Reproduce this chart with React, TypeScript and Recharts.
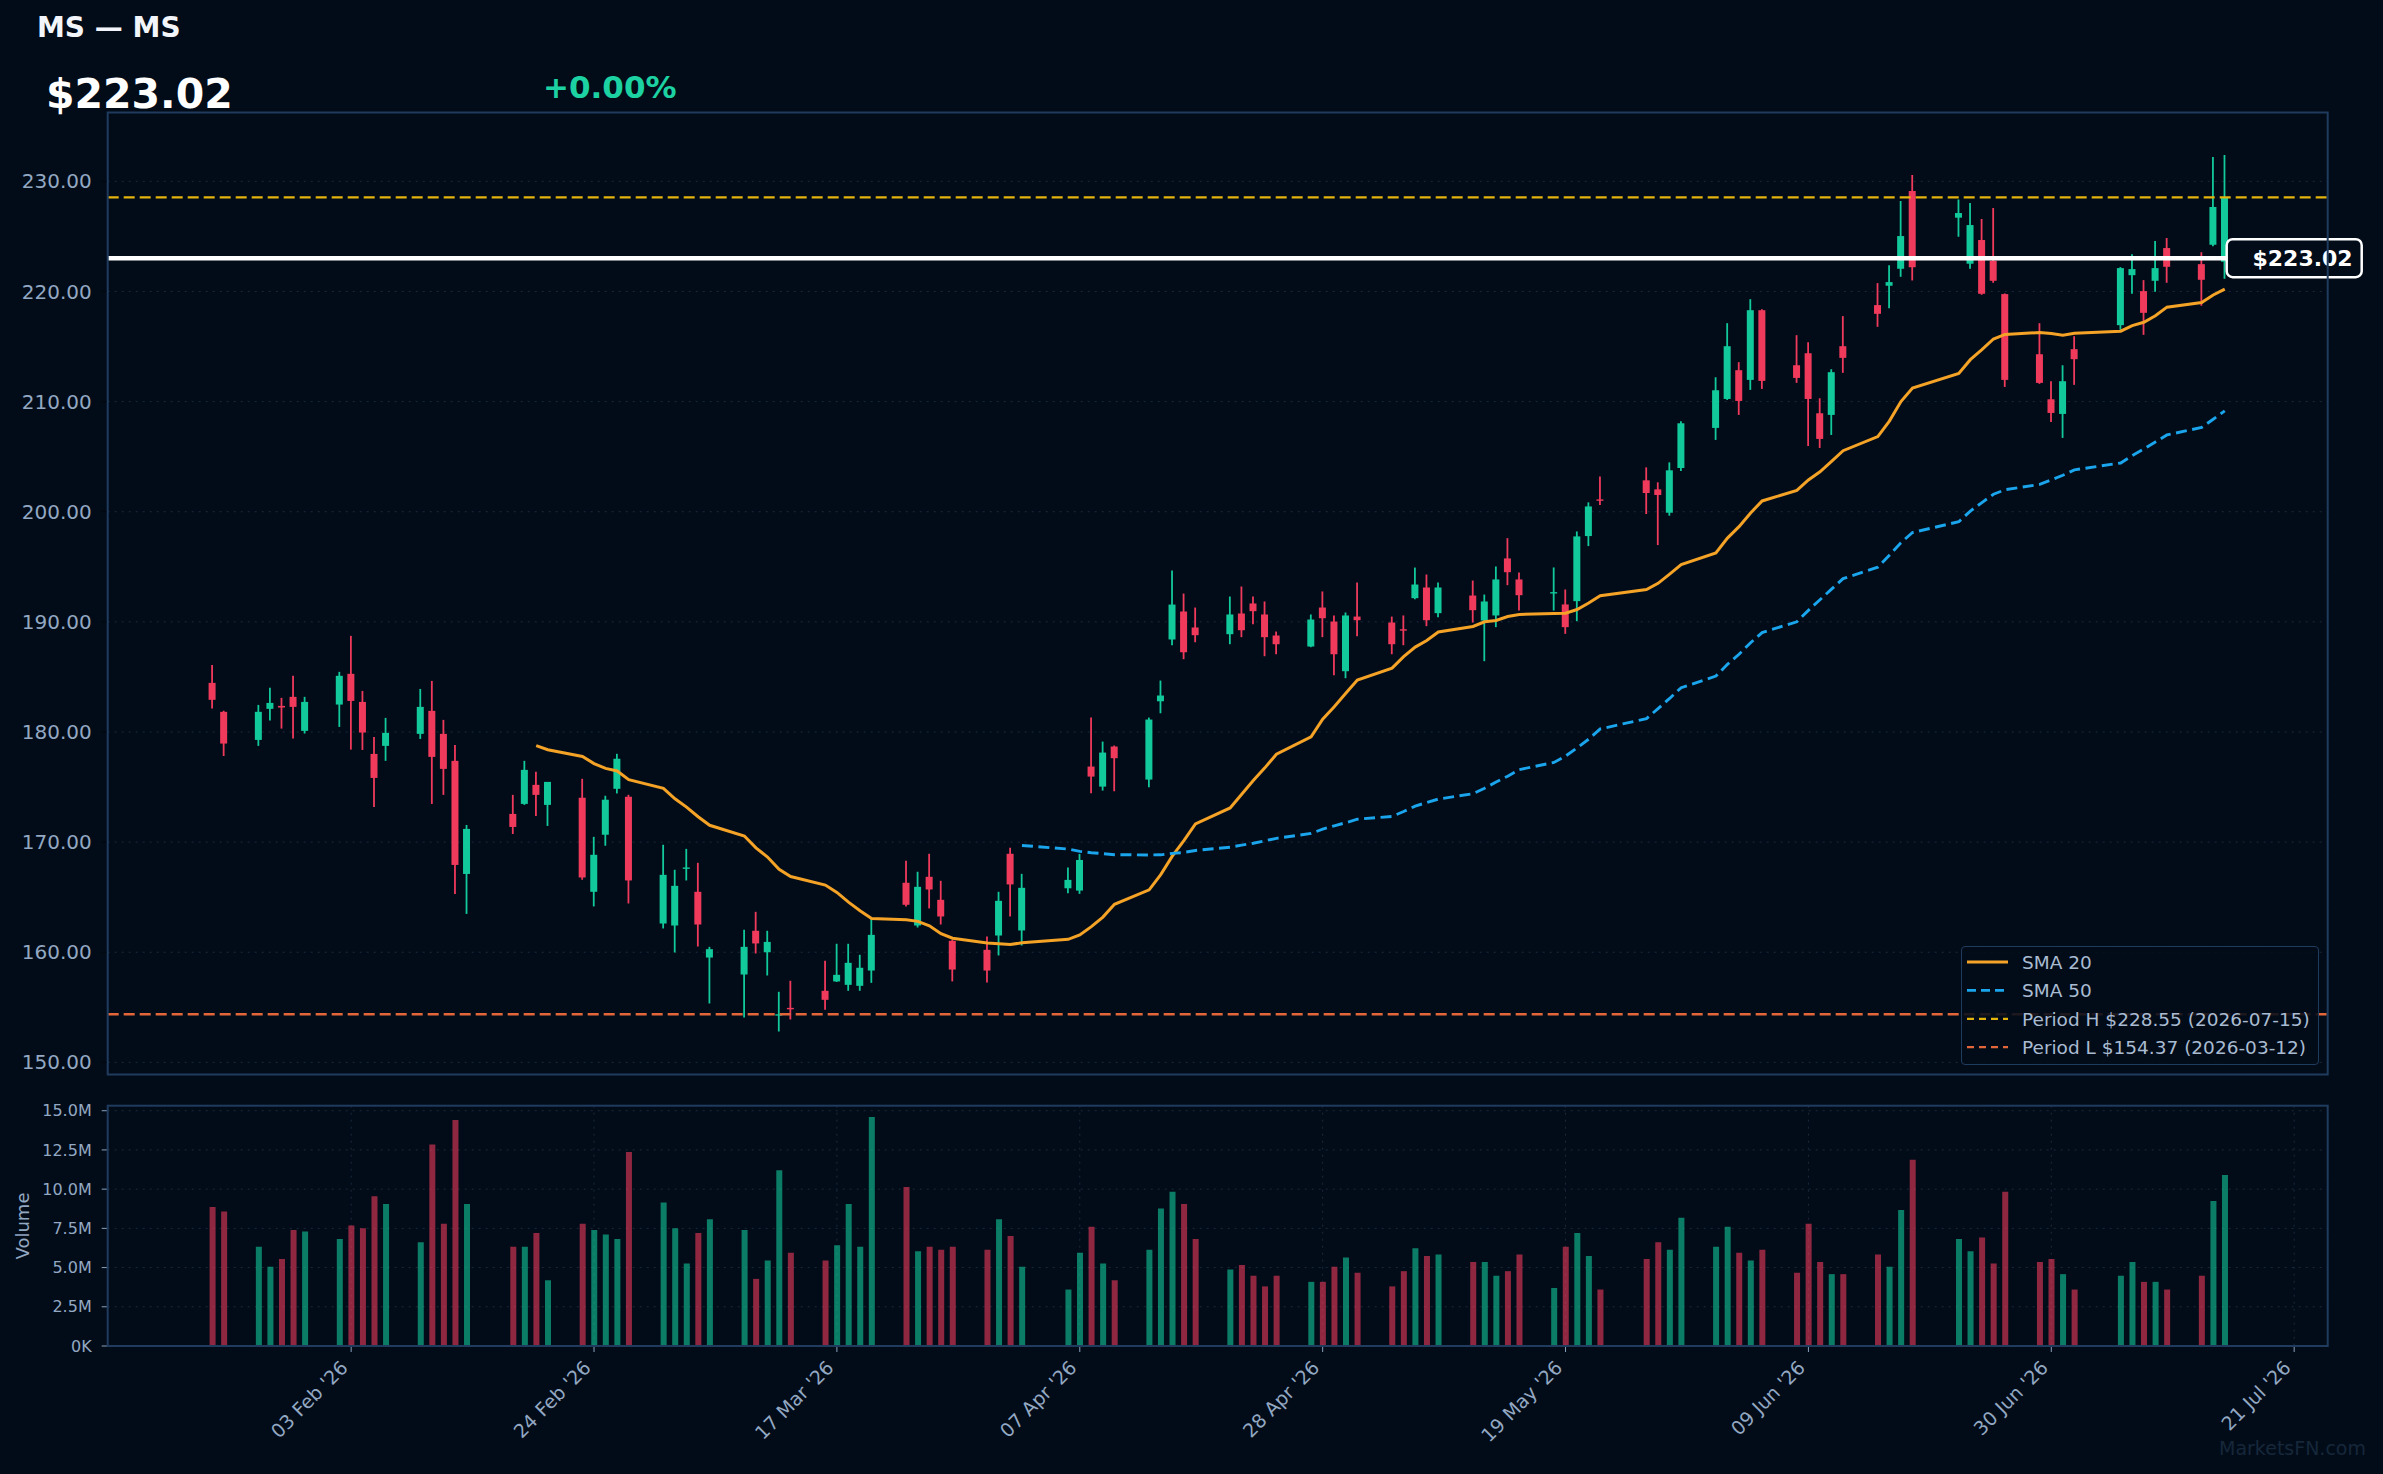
import React from "react"
import {
  Bar,
  CartesianGrid,
  Cell,
  ComposedChart,
  Line,
  ReferenceLine,
  XAxis,
  YAxis,
} from "recharts"

const BG = "#020c19"
const GREEN = "#12c99b"
const RED = "#f03a5c"
const GRID = "#1a2a3b"
const FRAME = "#1f3b5d"
const TICK_TEXT = "#93a8c2"
const SMA20_COLOR = "#f4a326"
const SMA50_COLOR = "#1aa5ec"
const HIGH_COLOR = "#e4b40c"
const LOW_COLOR = "#e3663a"
const FONT = "'DejaVu Sans', sans-serif"

const symbol = "MS"
const lastPrice = 223.02
const changePct = 0.0
const periodHigh = 228.55
const periodHighDate = "2026-07-15"
const periodLow = 154.37
const periodLowDate = "2026-03-12"

// daily sessions, Jan 22 – Jul 15 2026
const dates = [
  "2026-01-22", "2026-01-23", "2026-01-26", "2026-01-27", "2026-01-28", "2026-01-29", "2026-01-30",
  "2026-02-02", "2026-02-03", "2026-02-04", "2026-02-05", "2026-02-06",
  "2026-02-09", "2026-02-10", "2026-02-11", "2026-02-12", "2026-02-13",
  "2026-02-17", "2026-02-18", "2026-02-19", "2026-02-20",
  "2026-02-23", "2026-02-24", "2026-02-25", "2026-02-26", "2026-02-27",
  "2026-03-02", "2026-03-03", "2026-03-04", "2026-03-05", "2026-03-06",
  "2026-03-09", "2026-03-10", "2026-03-11", "2026-03-12", "2026-03-13",
  "2026-03-16", "2026-03-17", "2026-03-18", "2026-03-19", "2026-03-20",
  "2026-03-23", "2026-03-24", "2026-03-25", "2026-03-26", "2026-03-27",
  "2026-03-30", "2026-03-31", "2026-04-01", "2026-04-02",
  "2026-04-06", "2026-04-07", "2026-04-08", "2026-04-09", "2026-04-10",
  "2026-04-13", "2026-04-14", "2026-04-15", "2026-04-16", "2026-04-17",
  "2026-04-20", "2026-04-21", "2026-04-22", "2026-04-23", "2026-04-24",
  "2026-04-27", "2026-04-28", "2026-04-29", "2026-04-30", "2026-05-01",
  "2026-05-04", "2026-05-05", "2026-05-06", "2026-05-07", "2026-05-08",
  "2026-05-11", "2026-05-12", "2026-05-13", "2026-05-14", "2026-05-15",
  "2026-05-18", "2026-05-19", "2026-05-20", "2026-05-21", "2026-05-22",
  "2026-05-26", "2026-05-27", "2026-05-28", "2026-05-29",
  "2026-06-01", "2026-06-02", "2026-06-03", "2026-06-04", "2026-06-05",
  "2026-06-08", "2026-06-09", "2026-06-10", "2026-06-11", "2026-06-12",
  "2026-06-15", "2026-06-16", "2026-06-17", "2026-06-18",
  "2026-06-22", "2026-06-23", "2026-06-24", "2026-06-25", "2026-06-26",
  "2026-06-29", "2026-06-30", "2026-07-01", "2026-07-02",
  "2026-07-06", "2026-07-07", "2026-07-08", "2026-07-09", "2026-07-10",
  "2026-07-13", "2026-07-14", "2026-07-15",
]

const opens = [
  184.46, 181.83, 179.28, 182.10, 182.37, 183.19, 180.10,
  182.49, 185.28, 182.73, 178.01, 178.74,
  179.83, 181.92, 179.83, 177.38, 167.11,
  172.56, 173.47, 175.20, 173.38,
  174.03, 165.49, 170.67, 174.84, 174.12,
  162.61, 162.43, 167.64, 165.49, 159.52,
  157.98, 161.95, 160.00, 154.30, 154.95,
  156.50, 157.35, 157.04, 156.95, 158.34,
  166.31, 162.43, 166.85, 164.76, 161.04,
  160.22, 161.52, 168.94, 161.98,
  165.81, 165.60, 176.86, 175.04, 178.68,
  175.68, 182.79, 188.40, 190.94, 189.49,
  188.88, 190.76, 191.67, 190.67, 188.76,
  187.76, 191.30, 190.03, 185.52, 190.48,
  189.94, 189.33, 192.15, 193.12, 190.79,
  192.39, 190.12, 190.58, 195.76, 193.85,
  192.60, 191.58, 191.88, 197.79, 201.12,
  202.85, 202.03, 199.91, 203.97,
  207.61, 210.24, 212.85, 211.97, 218.30,
  213.30, 214.39, 208.94, 208.79, 215.03,
  218.76, 220.52, 222.06, 229.12,
  226.70, 222.52, 224.67, 222.79, 219.76,
  214.30, 210.21, 208.88, 214.76,
  216.94, 221.48, 220.03, 220.97, 223.94,
  222.48, 224.24, 222.70,
]

const highs = [
  186.09, 181.92, 182.46, 184.01, 183.10, 185.10, 183.19,
  185.46, 188.73, 183.73, 179.55, 181.28,
  183.91, 184.64, 181.10, 178.83, 171.56,
  174.29, 177.38, 176.38, 175.45,
  175.75, 170.48, 174.21, 178.02, 174.30,
  169.76, 167.49, 169.39, 168.12, 160.49,
  162.04, 163.67, 161.95, 156.41, 157.41,
  159.22, 160.77, 160.77, 159.77, 163.04,
  168.30, 167.31, 168.94, 166.49, 161.13,
  161.43, 165.49, 169.49, 167.12,
  167.69, 168.93, 181.31, 179.13, 178.77,
  181.31, 184.67, 194.66, 192.57, 191.30,
  192.30, 193.21, 192.30, 191.85, 189.12,
  190.67, 192.76, 190.58, 190.85, 193.57,
  190.48, 190.58, 194.93, 194.30, 193.57,
  193.75, 192.48, 195.03, 197.60, 194.48,
  194.94, 192.94, 198.21, 200.85, 203.21,
  204.03, 202.67, 204.48, 208.21,
  212.21, 217.12, 213.58, 219.30, 218.39,
  216.03, 215.39, 210.30, 212.94, 217.76,
  220.76, 222.39, 228.21, 230.58,
  228.36, 228.03, 226.58, 227.58, 219.82,
  217.12, 211.85, 213.30, 215.94,
  222.21, 223.39, 221.03, 224.58, 224.85,
  223.55, 232.21, 232.39,
]

const lows = [
  182.13, 177.83, 178.74, 181.04, 180.31, 179.40, 179.86,
  180.46, 178.40, 178.37, 173.20, 177.38,
  179.37, 173.47, 174.29, 165.30, 163.48,
  170.74, 173.38, 172.38, 171.47,
  166.58, 164.16, 169.67, 174.42, 164.43,
  162.16, 159.98, 166.52, 160.52, 155.35,
  154.07, 159.89, 157.89, 152.80, 153.89,
  154.77, 157.30, 156.50, 156.50, 157.22,
  164.16, 162.25, 163.98, 162.52, 157.35,
  157.25, 159.71, 163.25, 160.61,
  165.36, 165.30, 174.44, 174.68, 174.62,
  174.98, 181.70, 187.88, 186.61, 188.15,
  187.97, 188.61, 189.79, 186.88, 187.06,
  187.70, 188.61, 185.16, 184.88, 188.70,
  187.06, 187.88, 192.05, 189.61, 190.42,
  189.94, 186.43, 189.52, 193.33, 191.03,
  191.03, 188.91, 190.06, 196.88, 200.61,
  199.79, 196.97, 199.64, 203.70,
  206.52, 210.15, 208.79, 211.06, 211.15,
  211.70, 205.97, 205.79, 206.97, 212.61,
  216.79, 218.48, 221.33, 221.00,
  224.97, 222.06, 219.70, 220.79, 211.33,
  211.61, 208.15, 206.70, 211.52,
  216.52, 219.79, 216.06, 219.97, 220.79,
  218.70, 224.10, 221.15,
]

const closes = [
  182.92, 178.95, 181.83, 182.64, 182.22, 182.28, 182.73,
  185.10, 182.82, 179.95, 175.83, 179.92,
  182.28, 177.74, 176.65, 167.93, 171.20,
  171.38, 176.56, 174.29, 175.47,
  166.79, 168.85, 173.85, 177.57, 166.52,
  167.03, 166.03, 167.70, 162.52, 160.28,
  160.49, 160.80, 160.94, 154.37, 154.90,
  155.68, 157.95, 159.04, 158.59, 161.58,
  164.31, 165.94, 165.70, 163.25, 158.43,
  158.34, 164.67, 166.16, 165.85,
  166.57, 168.38, 175.95, 178.13, 177.62,
  181.13, 183.31, 191.57, 187.24, 188.79,
  190.67, 189.24, 190.97, 188.61, 187.97,
  190.21, 190.33, 187.06, 190.58, 190.15,
  187.97, 189.21, 193.39, 190.15, 193.12,
  191.06, 191.85, 193.85, 194.51, 192.42,
  192.70, 189.52, 197.76, 200.48, 201.00,
  201.70, 201.52, 203.76, 208.03,
  211.03, 215.03, 210.06, 218.30, 211.88,
  212.15, 210.24, 206.61, 212.67, 213.97,
  217.97, 220.85, 225.03, 222.20,
  227.12, 226.03, 219.79, 220.97, 211.97,
  211.70, 208.97, 211.85, 213.85,
  222.12, 222.03, 218.06, 222.12, 222.24,
  221.06, 227.67, 228.55,
]

// volume in millions of shares
const volumes = [
  8.86, 8.57, 6.33, 5.06, 5.55, 7.40, 7.30,
  6.82, 7.69, 7.50, 9.54, 9.06,
  6.62, 12.85, 7.79, 14.41, 9.06,
  6.33, 6.33, 7.21, 4.19,
  7.79, 7.40, 7.11, 6.82, 12.37,
  9.15, 7.50, 5.26, 7.21, 8.08,
  7.40, 4.28, 5.45, 11.20, 5.94,
  5.45, 6.43, 9.06, 6.33, 14.60,
  10.13, 6.04, 6.33, 6.13, 6.33,
  6.13, 8.08, 7.01, 5.06,
  3.60, 5.94, 7.60, 5.26, 4.19,
  6.13, 8.76, 9.83, 9.06, 6.82,
  4.87, 5.16, 4.48, 3.80, 4.48,
  4.09, 4.09, 5.06, 5.65, 4.67,
  3.80, 4.77, 6.23, 5.74, 5.84,
  5.36, 5.36, 4.48, 4.77, 5.84,
  3.70, 6.33, 7.21, 5.74, 3.60,
  5.55, 6.62, 6.13, 8.18,
  6.33, 7.60, 5.94, 5.45, 6.13,
  4.67, 7.79, 5.36, 4.58, 4.58,
  5.84, 5.06, 8.67, 11.88,
  6.82, 6.04, 6.91, 5.26, 9.83,
  5.36, 5.55, 4.58, 3.60,
  4.48, 5.36, 4.09, 4.09, 3.60,
  4.48, 9.25, 10.90,
]

const priceTicks = [150, 160, 170, 180, 190, 200, 210, 220, 230]
const volumeTicks = [0, 2.5, 5, 7.5, 10, 12.5, 15]
const dateTicks = [
  "2026-02-03", "2026-02-24", "2026-03-17", "2026-04-07", "2026-04-28",
  "2026-05-19", "2026-06-09", "2026-06-30", "2026-07-21",
]

const DAY_MS = 86400000
const EPOCH = Date.UTC(2026, 0, 1)
const MONTHS = ["Jan", "Feb", "Mar", "Apr", "May", "Jun", "Jul", "Aug", "Sep", "Oct", "Nov", "Dec"]

const dayNumber = (iso: string) => (Date.parse(iso + "T00:00:00Z") - EPOCH) / DAY_MS

function formatDay(t: number) {
  const d = new Date(EPOCH + t * DAY_MS)
  const dd = String(d.getUTCDate()).padStart(2, "0")
  return `${dd} ${MONTHS[d.getUTCMonth()]} '${String(d.getUTCFullYear()).slice(2)}`
}

function movingAverage(values: number[], n: number): (number | null)[] {
  return values.map((_, i) => {
    if (i < n - 1) return null
    let s = 0
    for (let k = i - n + 1; k <= i; k++) s += values[k]
    return s / n
  })
}

const sma20 = movingAverage(closes, 20)
const sma50 = movingAverage(closes, 50)

const rows = dates.map((d, i) => ({
  t: dayNumber(d),
  o: opens[i],
  h: highs[i],
  l: lows[i],
  c: closes[i],
  v: volumes[i],
  up: closes[i] >= opens[i],
  range: [lows[i], highs[i]],
  sma20: sma20[i],
  sma50: sma50[i],
}))

const tickDays = dateTicks.map(dayNumber)
const X_DOMAIN: [number, number] = [11.95, 203.9]
const PRICE_DOMAIN: [number, number] = [148.9, 236.25]
const VOLUME_DOMAIN: [number, number] = [0, 15.32]

// plot frame, page pixels
const PLOT_LEFT = 107.7
const PLOT_RIGHT = 2327.7
const PRICE_TOP = 112.5
const PRICE_BOTTOM = 1074.5
const VOL_TOP = 1105.7
const VOL_BOTTOM = 1346

function Candle(props: any) {
  const { x, y, width, height, payload } = props
  if (x == null || y == null || !payload) return null
  const top = Math.min(y, y + height)
  const bottom = Math.max(y, y + height)
  const span = payload.h - payload.l
  const py = (v: number) => (span === 0 ? top : top + ((payload.h - v) / span) * (bottom - top))
  const cx = x + width / 2
  const color = payload.up ? GREEN : RED
  const bodyTop = py(Math.max(payload.o, payload.c))
  const bodyBottom = py(Math.min(payload.o, payload.c))
  const bw = 7
  return (
    <g>
      <line x1={cx} x2={cx} y1={top} y2={bottom} stroke={color} strokeWidth={1.8} />
      <rect x={cx - bw / 2} y={bodyTop} width={bw} height={Math.max(bodyBottom - bodyTop, 1.4)} fill={color} />
    </g>
  )
}

function PriceTag(props: any) {
  const vb = props.viewBox
  if (!vb) return null
  const right = vb.x + vb.width
  const y = vb.y
  return (
    <g>
      <rect x={right - 101} y={y - 19} width={135} height={38} rx={6} fill={BG} stroke="#ffffff" strokeWidth={2.5} />
      <text x={right + 25} y={y + 7.5} textAnchor="end" fill="#ffffff" fontSize={22} fontWeight="bold" fontFamily={FONT}>
        ${lastPrice.toFixed(2)}
      </text>
    </g>
  )
}

function DateTick(props: any) {
  const { x, y, payload } = props
  const tx = x - 2
  const ty = y + 15
  return (
    <text x={tx} y={ty} transform={`rotate(-45 ${tx} ${ty})`} textAnchor="end" fill={TICK_TEXT} fontSize={19} fontFamily={FONT}>
      {formatDay(payload.value)}
    </text>
  )
}

const legendItems = [
  { label: "SMA 20", color: SMA20_COLOR, dash: undefined as string | undefined, width: 2.8 },
  { label: "SMA 50", color: SMA50_COLOR, dash: "9 5", width: 2.8 },
  { label: `Period H $${periodHigh.toFixed(2)} (${periodHighDate})`, color: HIGH_COLOR, dash: "7 5", width: 2.2 },
  { label: `Period L $${periodLow.toFixed(2)} (${periodLowDate})`, color: LOW_COLOR, dash: "7 5", width: 2.2 },
]

function ChartLegend() {
  return (
    <div
      style={{
        position: "absolute",
        left: 1961,
        top: 946,
        width: 358,
        height: 119,
        boxSizing: "border-box",
        border: `1.5px solid ${FRAME}`,
        borderRadius: 4,
        background: "rgba(2,12,25,0.88)",
      }}
    >
      <svg width={356} height={117} style={{ position: "absolute", left: 0, top: 0 }}>
        {legendItems.map((it, i) => {
          const cy = 15 + i * 28.4
          return (
            <g key={it.label}>
              <line x1={5} x2={46} y1={cy} y2={cy} stroke={it.color} strokeWidth={it.width} strokeDasharray={it.dash} />
              <text x={60} y={cy + 7} fill="#a9bbd1" fontSize={18.5} fontFamily={FONT}>
                {it.label}
              </text>
            </g>
          )
        })}
      </svg>
    </div>
  )
}

export default function App() {
  const pct = `${changePct >= 0 ? "+" : ""}${changePct.toFixed(2)}%`
  return (
    <div
      style={{
        position: "absolute",
        left: 0,
        top: 0,
        width: 2383,
        height: 1474,
        background: BG,
        overflow: "hidden",
        fontFamily: FONT,
      }}
    >
      {/* price panel */}
      <div style={{ position: "absolute", left: 0, top: 0 }}>
        <ComposedChart
          width={2383}
          height={1080}
          data={rows}
          margin={{ top: PRICE_TOP, right: 2383 - PLOT_RIGHT, bottom: 1080 - PRICE_BOTTOM, left: PLOT_LEFT - 90 }}
        >
          <CartesianGrid stroke={GRID} strokeDasharray="2 5" />
          <XAxis
            dataKey="t"
            type="number"
            domain={X_DOMAIN}
            ticks={tickDays}
            allowDataOverflow
            height={0}
            tick={false}
            tickLine={false}
            axisLine={false}
          />
          <YAxis
            type="number"
            domain={PRICE_DOMAIN}
            ticks={priceTicks}
            allowDataOverflow
            width={90}
            tickFormatter={(v: number) => v.toFixed(2)}
            tick={{ fill: TICK_TEXT, fontSize: 20, fontFamily: FONT }}
            tickLine={{ stroke: "#04070b" }}
            tickSize={6}
            tickMargin={10}
            axisLine={false}
          />
          <Bar dataKey="range" barSize={7} shape={(p: any) => <Candle {...p} />} isAnimationActive={false} />
          <Line dataKey="sma20" stroke={SMA20_COLOR} strokeWidth={3} dot={false} activeDot={false} isAnimationActive={false} />
          <Line
            dataKey="sma50"
            stroke={SMA50_COLOR}
            strokeWidth={2.9}
            strokeDasharray="11 5.5"
            dot={false}
            activeDot={false}
            isAnimationActive={false}
          />
          <ReferenceLine y={periodHigh} stroke={HIGH_COLOR} strokeWidth={2.3} strokeDasharray="11 5" />
          <ReferenceLine y={periodLow} stroke={LOW_COLOR} strokeWidth={2.3} strokeDasharray="11 5" />
          <ReferenceLine y={lastPrice} stroke="#ffffff" strokeWidth={4.5} label={(p: any) => <PriceTag {...p} />} />
        </ComposedChart>
      </div>

      {/* volume panel */}
      <div style={{ position: "absolute", left: 0, top: 1090 }}>
        <ComposedChart
          width={2383}
          height={384}
          data={rows}
          margin={{ top: VOL_TOP - 1090, right: 2383 - PLOT_RIGHT, bottom: 0, left: PLOT_LEFT - 90 }}
        >
          <CartesianGrid stroke={GRID} strokeDasharray="2 5" />
          <XAxis
            dataKey="t"
            type="number"
            domain={X_DOMAIN}
            ticks={tickDays}
            allowDataOverflow
            height={1474 - 1090 - (VOL_BOTTOM - 1090)}
            tick={(p: any) => <DateTick {...p} />}
            tickLine={{ stroke: "#8aa2bd" }}
            tickSize={6}
            axisLine={false}
          />
          <YAxis
            type="number"
            domain={VOLUME_DOMAIN}
            ticks={volumeTicks}
            allowDataOverflow
            width={90}
            tickFormatter={(v: number) => (v === 0 ? "0K" : `${v.toFixed(1)}M`)}
            tick={{ fill: TICK_TEXT, fontSize: 16, fontFamily: FONT }}
            tickLine={{ stroke: "#8aa2bd" }}
            tickSize={6}
            tickMargin={10}
            axisLine={false}
          />
          <Bar dataKey="v" barSize={6} isAnimationActive={false}>
            {rows.map((r, i) => (
              <Cell key={i} fill={r.up ? GREEN : RED} fillOpacity={0.6} />
            ))}
          </Bar>
        </ComposedChart>
      </div>

      {/* frames, header and captions */}
      <svg width={2383} height={1474} style={{ position: "absolute", left: 0, top: 0, pointerEvents: "none" }}>
        <rect x={PLOT_LEFT} y={PRICE_TOP} width={PLOT_RIGHT - PLOT_LEFT} height={PRICE_BOTTOM - PRICE_TOP} fill="none" stroke={FRAME} strokeWidth={2} />
        <rect x={PLOT_LEFT} y={VOL_TOP} width={PLOT_RIGHT - PLOT_LEFT} height={VOL_BOTTOM - VOL_TOP} fill="none" stroke={FRAME} strokeWidth={2} />
        <text x={37} y={36.5} fill="#f2f5f9" fontSize={28} fontWeight="bold" fontFamily={FONT}>
          {symbol} — {symbol}
        </text>
        <text x={46} y={108} fill="#ffffff" fontSize={41} fontWeight="bold" fontFamily={FONT}>
          ${lastPrice.toFixed(2)}
        </text>
        <text x={543} y={98} fill="#1dd2a2" fontSize={31} fontWeight="bold" fontFamily={FONT}>
          {pct}
        </text>
        <text
          x={22.5}
          y={1226}
          transform="rotate(-90 22.5 1226)"
          textAnchor="middle"
          dominantBaseline="central"
          fill={TICK_TEXT}
          fontSize={18}
          fontFamily={FONT}
        >
          Volume
        </text>
        <text x={2366} y={1455} textAnchor="end" fill="#16273a" fontSize={19} fontFamily={FONT}>
          MarketsFN.com
        </text>
      </svg>

      <ChartLegend />
    </div>
  )
}
